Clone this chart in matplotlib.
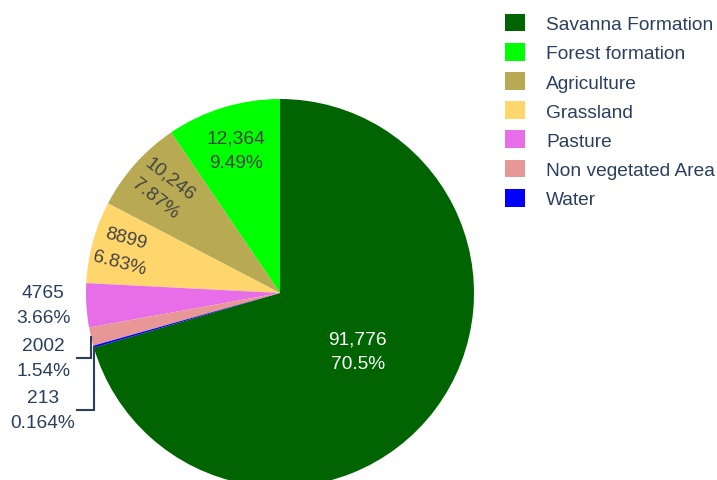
import numpy as np
import matplotlib
matplotlib.use("Agg")
import matplotlib.pyplot as plt

plt.rcParams["font.family"] = ["Liberation Sans", "DejaVu Sans"]

classes = ["Savanna Formation", "Forest formation", "Agriculture", "Grassland",
           "Pasture", "Non vegetated Area", "Water"]
areas = [91776, 12364, 10246, 8899, 4765, 2002, 213]
colors = ["#006400", "#00ff00", "#b7aa52", "#ffd66b", "#e86de8", "#e89797", "#0000ff"]

FONT = 13.8
INK = "#2a3f5f"
LS = 1.62
W, H = 717, 481
CX, CY, R = 280, H - 294, 194      # pie centre / radius in pixel units


def fmt_value(v):
    return f"{v:,}" if v >= 10000 else str(v)


fig = plt.figure(figsize=(W / 100, H / 100), dpi=100)
ax = fig.add_axes([0, 0, 1, 1])

vals = np.array(areas, dtype=float)
share = vals / vals.sum()
wedges, _ = ax.pie(vals, colors=colors, radius=R, center=(CX, CY),
                   startangle=90 - 360 * share[0], counterclock=True,
                   wedgeprops=dict(linewidth=0))

# labels inside the big slices: (radius fraction, rotation, text colour)
inside = {0: (0.50, 0, "white"), 1: (0.77, 0, "#444444"),
          2: (0.81, -38, "#444444"), 3: (0.84, -15, "#444444")}
prev_y = None
for i, w in enumerate(wedges):
    mid = np.deg2rad((w.theta1 + w.theta2) / 2)
    txt = f"{fmt_value(areas[i])}\n{share[i] * 100:.3g}%"
    if i in inside:
        rf, rot, col = inside[i]
        ax.text(CX + rf * R * np.cos(mid), CY + rf * R * np.sin(mid), txt,
                ha="center", va="center", rotation=rot, rotation_mode="anchor",
                fontsize=FONT, color=col, linespacing=LS)
        continue
    # small slices: stacked labels down the left side
    ax_x, ax_y = CX + R * np.cos(mid), CY + R * np.sin(mid)
    ly = ax_y if prev_y is None else min(ax_y, prev_y - 52.5)
    if prev_y is not None:
        ax.plot([ax_x, ax_x, 77], [ax_y, ly, ly], color=INK, lw=1.5,
                solid_joinstyle="miter")
    prev_y = ly
    ax.text(43, ly, txt, ha="center", va="center", fontsize=FONT,
            color=INK, linespacing=LS)

leg = ax.legend(wedges, classes, loc="upper left", bbox_to_anchor=(497 / W, 1 - 7 / H),
                frameon=False, fontsize=FONT, handlelength=1.05, handleheight=1.05,
                handletextpad=1.1, labelspacing=0.51, borderaxespad=0)
for t in leg.get_texts():
    t.set_color(INK)

ax.set_xlim(0, W)
ax.set_ylim(0, H)
ax.set_aspect("equal")
ax.axis("off")

fig.savefig("out.png", dpi=100)
